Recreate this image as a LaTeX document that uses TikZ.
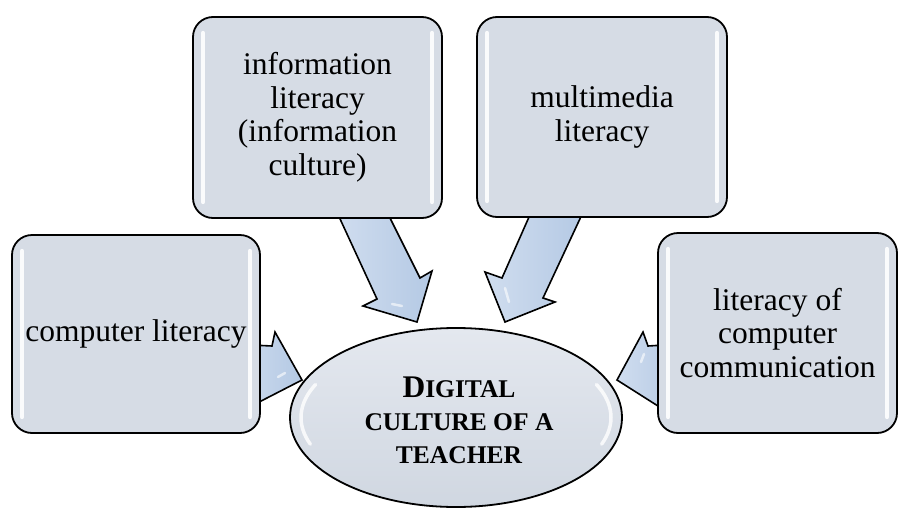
\documentclass[tikz,border=0pt]{standalone}
\usepackage{fontspec}
\setmainfont{Liberation Serif}
\usetikzlibrary{shapes.geometric,calc}
\definecolor{boxfill}{RGB}{214,220,229}
\definecolor{arrowfill}{RGB}{180,201,228}
\definecolor{arrowlight}{RGB}{208,221,239}
\definecolor{elltop}{RGB}{228,232,239}
\definecolor{ellbot}{RGB}{208,215,225}
\begin{document}
\begin{tikzpicture}[x=1pt,y=-1pt,
  box/.style={draw=black, line width=1.8pt, fill=boxfill, rounded corners=20pt,
    align=center, font=\fontsize{31.5}{33.5}\selectfont, inner sep=0pt},
  blockarrow/.style={draw=black, line width=1.6pt, line join=miter,
    left color=arrowlight, right color=arrowfill},
  gloss/.style={white, line width=4.5pt, line cap=round, opacity=0.9},
  shine/.style={white, line width=2.5pt, line cap=round, opacity=0.6}]
\useasboundingbox (0,0) rectangle (898,509);

% block arrows (drawn first, the boxes cover their roots)
\draw[blockarrow] (335,208) -- (377,299) -- (363,306) -- (417,322) -- (432,271) -- (420,278) -- (385,208) -- cycle;
\draw[blockarrow] (533,208) -- (502,278) -- (485,272) -- (505,322) -- (555,302) -- (543,298) -- (585,208) -- cycle;
\draw[blockarrow] (230,344) -- (272,346) -- (275,332) -- (302,380) -- (230,417) -- cycle;
\draw[blockarrow] (680,344) -- (648,346) -- (643,332) -- (617,380) -- (680,420) -- cycle;
% highlights on the arrows
\draw[shine] (392,304) -- (402,306);
\draw[shine] (505,288) -- (509,302);
\draw[shine] (278,377) -- (285,373);
\draw[shine] (641,362) -- (644,354);

% boxes
\node[box, minimum width=248pt, minimum height=198pt] (cl) at (136,334) {computer literacy};
\node[box, minimum width=249pt, minimum height=201pt] (il) at (317.5,117.5) {information\\literacy\\(information\\culture)};
\node[box, minimum width=250pt, minimum height=200pt] (ml) at (602,117) {multimedia\\literacy};
\node[box, minimum width=239pt, minimum height=200pt] (lc) at (777.5,333) {literacy of\\computer\\communication};

\foreach \n in {cl,il,ml,lc}{
  \draw[gloss] ($(\n.north west)+(11,17)$) -- ($(\n.south west)+(11,-17)$);
  \draw[gloss] ($(\n.north east)+(-11,17)$) -- ($(\n.south east)+(-11,-17)$);
}

% central ellipse
\node[draw=black, ellipse, line width=1.8pt, minimum width=332pt, minimum height=179pt,
  top color=elltop, bottom color=ellbot, inner sep=0pt] (dc) at (456,417.5) {};
\node[align=center, inner sep=0pt, font=\fontsize{25.5}{33}\selectfont\bfseries] (dct)
  at ([shift={(3,3)}]dc.center)
  {{\fontsize{31.5}{33}\selectfont D}IGITAL\\CULTURE OF A\\TEACHER};
\draw[white, line width=3.5pt, line cap=round, opacity=0.8]
  ([shift={(160:155 and 78)}]dc.center) arc[start angle=160, end angle=205, x radius=155, y radius=78];
\draw[white, line width=3.5pt, line cap=round, opacity=0.8]
  ([shift={(20:155 and 78)}]dc.center) arc[start angle=20, end angle=-25, x radius=155, y radius=78];
\end{tikzpicture}
\end{document}
